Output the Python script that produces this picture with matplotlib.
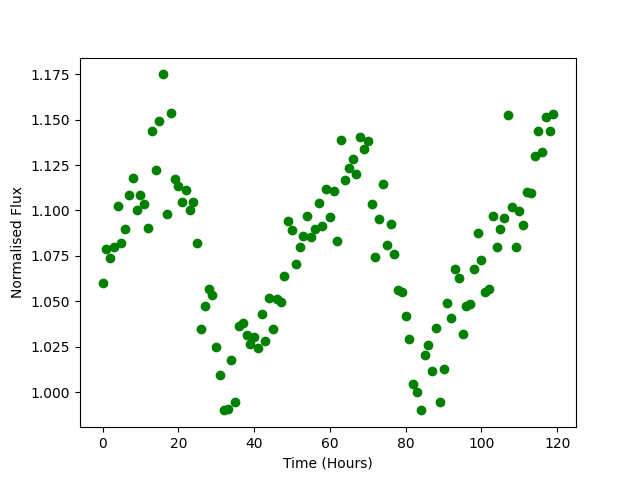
import matplotlib
matplotlib.use('Agg')
import matplotlib.pyplot as plt

# Time in hours, one reading per hour
time_hours = list(range(120))

# Normalised flux
flux = [
    1.0603, 1.0790, 1.0740, 1.0796, 1.1023, 1.0819, 1.0900, 1.1087, 1.1181, 1.1005,
    1.1087, 1.1038, 1.0906, 1.1436, 1.1225, 1.1495, 1.1749, 1.0983, 1.1534, 1.1172,
    1.1137, 1.1049, 1.1110, 1.1005, 1.1045, 1.0819, 1.0349, 1.0476, 1.0570, 1.0534,
    1.0250, 1.0096, 0.9903, 0.9909, 1.0178, 0.9943, 1.0366, 1.0378, 1.0316, 1.0267,
    1.0301, 1.0245, 1.0432, 1.0283, 1.0516, 1.0345, 1.0512, 1.0498, 1.0641, 1.0944,
    1.0895, 1.0707, 1.0801, 1.0858, 1.0968, 1.0851, 1.0900, 1.1043, 1.0913, 1.1117,
    1.0962, 1.1109, 1.0834, 1.1386, 1.1165, 1.1236, 1.1282, 1.1203, 1.1407, 1.1341,
    1.1381, 1.1038, 1.0742, 1.0955, 1.1148, 1.0808, 1.0928, 1.0762, 1.0564, 1.0553,
    1.0421, 1.0290, 1.0042, 1.0002, 0.9899, 1.0206, 1.0261, 1.0118, 1.0351, 0.9943,
    1.0129, 1.0493, 1.0410, 1.0680, 1.0630, 1.0322, 1.0474, 1.0483, 1.0680, 1.0878,
    1.0729, 1.0553, 1.0570, 1.0972, 1.0796, 1.0900, 1.0961, 1.1528, 1.1017, 1.0801,
    1.0999, 1.0922, 1.1104, 1.1098, 1.1302, 1.1440, 1.1324, 1.1512, 1.1436, 1.1530,
]

plt.figure(figsize=(6.4, 4.8), dpi=100)
plt.plot(time_hours, flux, 'go')
plt.xlabel('Time (Hours)')
plt.ylabel('Normalised Flux')

plt.savefig('out.png')
